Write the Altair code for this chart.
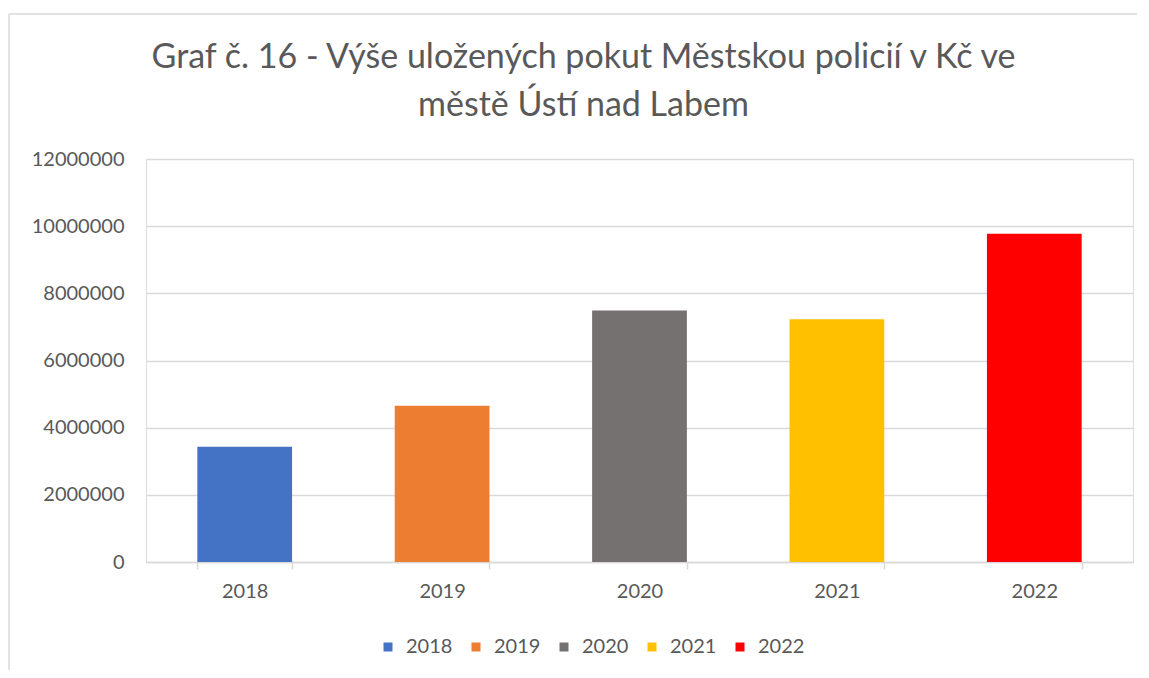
import altair as alt
import pandas as pd

years = ["2018", "2019", "2020", "2021", "2022"]
values = [3430000, 4655000, 7490000, 7230000, 9775000]
colors = ["#4472C4", "#ED7D31", "#767171", "#FFC000", "#FF0000"]
y_ticks = [0, 2000000, 4000000, 6000000, 8000000, 10000000, 12000000]
title_lines = ["Graf č. 16 - Výše uložených  pokut Městskou policií  v Kč ve",
               "městě Ústí nad Labem"]

df = pd.DataFrame({"rok": years, "pokuty": values})

FONT = "Lato"
TXT = "#595959"
GRID = "#D9D9D9"

bars = alt.Chart(df).mark_bar().encode(
    x=alt.X("rok:N", title=None,
            scale=alt.Scale(paddingInner=0.52, paddingOuter=0.26),
            axis=alt.Axis(labelAngle=0, labelFontSize=20, labelColor=TXT, labelFont=FONT,
                          domainColor=GRID, domainWidth=1.5, tickColor=GRID, tickWidth=1.5,
                          tickSize=7, tickBand="extent", labelPadding=12, grid=False)),
    y=alt.Y("pokuty:Q", title=None,
            scale=alt.Scale(domain=[0, 12000000], nice=False),
            axis=alt.Axis(values=y_ticks, format="d", labelFontSize=20, labelColor=TXT,
                          labelFont=FONT, ticks=False, domain=False, labelPadding=22,
                          gridColor=GRID, gridWidth=1.3)),
    color=alt.Color("rok:N", scale=alt.Scale(domain=years, range=colors),
                    legend=alt.Legend(title=None, orient="none", direction="horizontal",
                                      legendX=232, legendY=478, symbolType="square",
                                      symbolSize=81, symbolStrokeWidth=0,
                                      labelFontSize=20, labelColor=TXT, labelFont=FONT,
                                      labelOffset=8, columnPadding=13, padding=0)),
)

border_top = alt.Chart(pd.DataFrame({"k": [0]})).mark_rule(color=GRID, strokeWidth=1.5).encode(
    x=alt.value(-137), x2=alt.value(1003), y=alt.value(-145))
border_left = alt.Chart(pd.DataFrame({"k": [0]})).mark_rule(color=GRID, strokeWidth=1.5).encode(
    x=alt.value(-137), y=alt.value(-145), y2=alt.value(519))

chart = alt.layer(border_top, border_left, bars).properties(
    width=987, height=403,
    title=alt.TitleParams(text=title_lines, fontSize=34, font=FONT, fontWeight="normal",
                          color=TXT, anchor="middle", dx=-56, offset=-137, lineHeight=48,
                          baseline="alphabetic"),
    autosize=alt.AutoSizeParams(type="none"),
    padding={"left": 138, "top": 151, "right": 4, "bottom": 108},
).configure_view(stroke=None).configure(background="white")

chart.save("out.html", embed_options={"renderer": "svg", "actions": False})
